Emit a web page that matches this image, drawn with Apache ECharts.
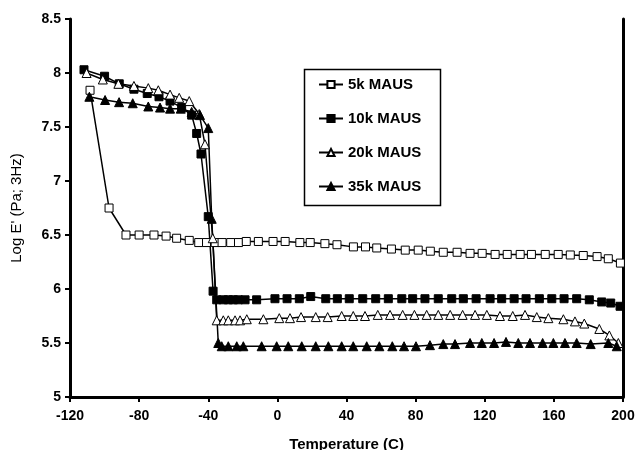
<!DOCTYPE html>
<html>
<head>
<meta charset="utf-8">
<script src="https://cdn.jsdelivr.net/npm/echarts@6/dist/echarts.min.js"></script>
<style>
  html, body { margin: 0; padding: 0; background: #fff; }
  #chart { width: 636px; height: 450px; }
</style>
</head>
<body>
<div id="chart"></div>
<script>
// 温度 (C) 与 Log E' 读数
const temp5k = [-108.4, -97.4, -87.6, -80, -71.4, -64.4, -58.3, -51, -45.5, -41, -36, -32, -27, -22.5, -18, -11, -2.5, 4.5, 13, 19, 27.5, 34.5, 44, 51, 57.5, 66, 74, 81.5, 88.5, 96, 104, 111.5, 118.5, 126, 133, 140.5, 147, 155, 162.5, 169.5, 177, 185, 191.5, 198.5];
const logE5k = [7.84, 6.75, 6.5, 6.5, 6.5, 6.49, 6.47, 6.45, 6.43, 6.43, 6.43, 6.43, 6.43, 6.43, 6.44, 6.44, 6.44, 6.44, 6.43, 6.43, 6.42, 6.41, 6.39, 6.39, 6.38, 6.37, 6.36, 6.36, 6.35, 6.34, 6.34, 6.33, 6.33, 6.32, 6.32, 6.32, 6.32, 6.32, 6.32, 6.315, 6.31, 6.3, 6.28, 6.24];

const temp10k = [-111.9, -100, -91.5, -83, -75.3, -68.5, -62.1, -55.4, -49.6, -46.7, -44.2, -40, -37.2, -35.1, -31.3, -28.4, -25.5, -22.6, -18.7, -12, -1.4, 5.6, 12.7, 19.3, 28, 34.7, 41.6, 49.4, 56.9, 64.2, 72, 78.3, 85.4, 93.1, 100.9, 107.6, 115, 123.1, 129.8, 137, 143.9, 151.6, 158.8, 165.9, 173.2, 180.5, 187.7, 192.9, 198.3];
const logE10k = [8.03, 7.97, 7.9, 7.85, 7.81, 7.78, 7.74, 7.68, 7.61, 7.44, 7.25, 6.67, 5.98, 5.9, 5.9, 5.9, 5.9, 5.9, 5.9, 5.9, 5.91, 5.91, 5.91, 5.93, 5.91, 5.91, 5.91, 5.91, 5.91, 5.91, 5.91, 5.91, 5.91, 5.91, 5.91, 5.91, 5.91, 5.91, 5.91, 5.91, 5.91, 5.91, 5.91, 5.91, 5.91, 5.9, 5.88, 5.87, 5.84];

const temp20k = [-110.4, -101, -92, -83, -74.7, -68.9, -62.1, -56.8, -51, -45.2, -41.9, -37.4, -35.1, -31.3, -28.4, -24.5, -21.6, -17.7, -8.1, 1.1, 7.3, 13.7, 22.2, 29.1, 37.2, 43.9, 50.7, 58.1, 65.2, 72.5, 79.3, 86.4, 93.1, 100, 107.2, 114.4, 121.2, 128.8, 136.2, 143.3, 150.1, 156.8, 165.5, 172.2, 177.6, 186.3, 192.1, 197.3];
const logE20k = [8.0, 7.94, 7.9, 7.88, 7.86, 7.84, 7.8, 7.77, 7.74, 7.62, 7.34, 6.47, 5.71, 5.71, 5.71, 5.71, 5.71, 5.72, 5.72, 5.73, 5.73, 5.74, 5.74, 5.74, 5.75, 5.75, 5.75, 5.76, 5.76, 5.76, 5.76, 5.76, 5.76, 5.76, 5.76, 5.76, 5.76, 5.75, 5.75, 5.76, 5.74, 5.73, 5.72, 5.7, 5.68, 5.63, 5.57, 5.5];

const temp35k = [-108.8, -99.7, -91.6, -83.7, -74.7, -67.9, -62.1, -55.9, -49.6, -44.8, -40, -38, -34.2, -32.2, -28.4, -23.5, -19.7, -9.1, -0.4, 6.3, 14.1, 22.2, 29.5, 37.2, 43.9, 51.7, 59, 66.5, 73.3, 80.2, 88.3, 96, 102.8, 111.5, 118.3, 125.4, 132.3, 139.4, 146.2, 153.5, 159.7, 166.4, 173.2, 181.3, 191.5, 196.4];
const logE35k = [7.78, 7.75, 7.73, 7.72, 7.69, 7.68, 7.67, 7.67, 7.64, 7.61, 7.49, 6.65, 5.5, 5.47, 5.47, 5.47, 5.47, 5.47, 5.47, 5.47, 5.47, 5.47, 5.47, 5.47, 5.47, 5.47, 5.47, 5.47, 5.47, 5.47, 5.48, 5.49, 5.49, 5.5, 5.5, 5.5, 5.51, 5.5, 5.5, 5.5, 5.5, 5.5, 5.5, 5.49, 5.5, 5.47];

const xTicks = { min: -120, max: 200, interval: 40 };
const yTicks = { min: 5, max: 8.5, interval: 0.5 };

const FONT = '"Liberation Sans", Arial, sans-serif';

function zip(xs, ys) {
  return xs.map((x, i) => [x, ys[i]]);
}

function makeSeries(name, xs, ys, symbol, filled) {
  return {
    name: name,
    type: 'line',
    data: zip(xs, ys),
    symbol: symbol,
    symbolSize: symbol === 'rect' ? 8 : 9,
    lineStyle: { color: '#000', width: 1.5 },
    itemStyle: {
      color: filled ? '#000' : '#fff',
      borderColor: '#000',
      borderWidth: 1
    },
    emphasis: { disabled: true }
  };
}

const chart = echarts.init(document.getElementById('chart'));
chart.setOption({
  animation: false,
  backgroundColor: '#fff',
  grid: { left: 70, right: 13, top: 19, bottom: 53, outerBoundsMode: 'none', containLabel: false },
  legend: {
    orient: 'vertical',
    left: 318,
    top: 77,
    padding: 0,
    itemWidth: 24,
    itemHeight: 9,
    itemGap: 19,
    textStyle: { fontFamily: FONT, fontWeight: 'bold', fontSize: 15, color: '#000', lineHeight: 15 },
    data: ['5k MAUS', '10k MAUS', '20k MAUS', '35k MAUS']
  },
  graphic: [{
    type: 'rect',
    left: 302,
    top: 67,
    shape: { width: 136, height: 136 },
    style: { fill: 'none', stroke: '#000', lineWidth: 1.5 },
    z: 1
  }],
  xAxis: {
    type: 'value',
    min: xTicks.min,
    max: xTicks.max,
    interval: xTicks.interval,
    name: 'Temperature (C)',
    nameLocation: 'middle',
    nameGap: 40,
    nameTextStyle: { fontFamily: FONT, fontWeight: 'bold', fontSize: 15, color: '#000' },
    axisLine: { onZero: false, lineStyle: { color: '#000', width: 3 } },
    axisTick: { show: true, length: 5, lineStyle: { color: '#000', width: 2 } },
    axisLabel: { fontFamily: FONT, fontWeight: 'bold', fontSize: 14, color: '#000', margin: 12 },
    splitLine: { show: false }
  },
  yAxis: [{
    type: 'value',
    min: yTicks.min,
    max: yTicks.max,
    interval: yTicks.interval,
    name: "Log E' (Pa; 3Hz)",
    nameLocation: 'middle',
    nameGap: 46,
    nameTextStyle: { fontFamily: FONT, fontSize: 15, color: '#000' },
    axisLine: { show: true, onZero: false, lineStyle: { color: '#000', width: 3 } },
    axisTick: { show: true, length: 5, lineStyle: { color: '#000', width: 2 } },
    axisLabel: { fontFamily: FONT, fontWeight: 'bold', fontSize: 14, color: '#000', margin: 9 },
    splitLine: { show: false }
  }, {
    type: 'value',
    position: 'right',
    min: yTicks.min,
    max: yTicks.max,
    interval: yTicks.interval,
    axisLine: { show: true, onZero: false, lineStyle: { color: '#000', width: 3 } },
    axisTick: { show: false },
    axisLabel: { show: false },
    splitLine: { show: false }
  }],
  series: [
    makeSeries('5k MAUS', temp5k, logE5k, 'rect', false),
    makeSeries('10k MAUS', temp10k, logE10k, 'rect', true),
    makeSeries('20k MAUS', temp20k, logE20k, 'triangle', false),
    makeSeries('35k MAUS', temp35k, logE35k, 'triangle', true)
  ]
});
</script>
</body>
</html>
